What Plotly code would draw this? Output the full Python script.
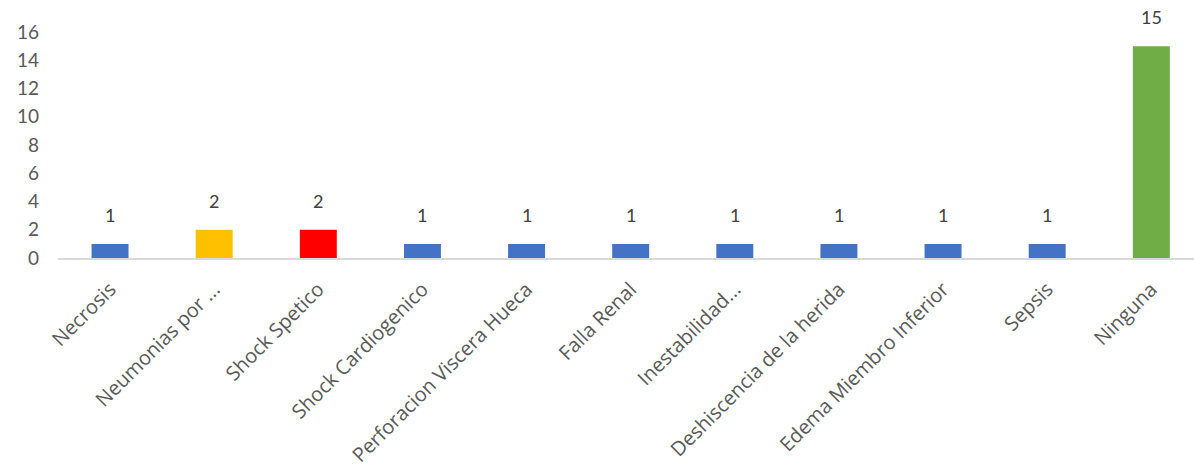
import plotly.graph_objects as go

categories = [
    "Necrosis", "Neumonias por ...", "Shock Spetico", "Shock Cardiogenico",
    "Perforacion Viscera Hueca", "Falla Renal", "Inestabilidad...",
    "Deshiscencia de la herida", "Edema Miembro Inferior", "Sepsis", "Ninguna",
]
values = [1, 2, 2, 1, 1, 1, 1, 1, 1, 1, 15]
bar_colors = [
    "#4472C4", "#FFC000", "#FF0000", "#4472C4", "#4472C4", "#4472C4",
    "#4472C4", "#4472C4", "#4472C4", "#4472C4", "#70AD47",
]
y_ticks = [0, 2, 4, 6, 8, 10, 12, 14, 16]

num_font = "Lato, 'Open Sans', sans-serif"
cat_font = "'Open Sans', Lato, sans-serif"

xs = list(range(len(categories)))

fig = go.Figure(
    go.Bar(
        x=xs,
        y=values,
        marker=dict(color=bar_colors, line=dict(width=0)),
        width=0.355,
        cliponaxis=False,
    )
)

# value labels sitting above each bar
for x, v in zip(xs, values):
    fig.add_annotation(
        x=x, y=v, text=str(v), showarrow=False,
        yanchor="middle", yshift=29,
        font=dict(size=18, color="#404040", family=num_font),
    )

fig.update_layout(
    width=1194,
    height=470,
    margin=dict(l=58, r=0, t=32, b=212),
    paper_bgcolor="white",
    plot_bgcolor="white",
    showlegend=False,
    font=dict(family=num_font, color="#595959"),
    xaxis=dict(
        tickmode="array",
        tickvals=xs,
        ticktext=categories,
        tickangle=-45,
        tickfont=dict(size=20, color="#595959", family=cat_font),
        range=[-0.5, 10.41],
        showgrid=False,
        showline=True,
        linecolor="#D9D9D9",
        linewidth=1.5,
        ticks="",
        ticklabelstandoff=10,
        zeroline=False,
        automargin=False,
    ),
    yaxis=dict(
        range=[0, 16],
        tickmode="array",
        tickvals=y_ticks,
        tickfont=dict(size=19, color="#595959"),
        showgrid=False,
        showline=False,
        zeroline=False,
        ticks="",
        ticklabelstandoff=18,
        automargin=False,
    ),
)

fig.write_html("out.html")
